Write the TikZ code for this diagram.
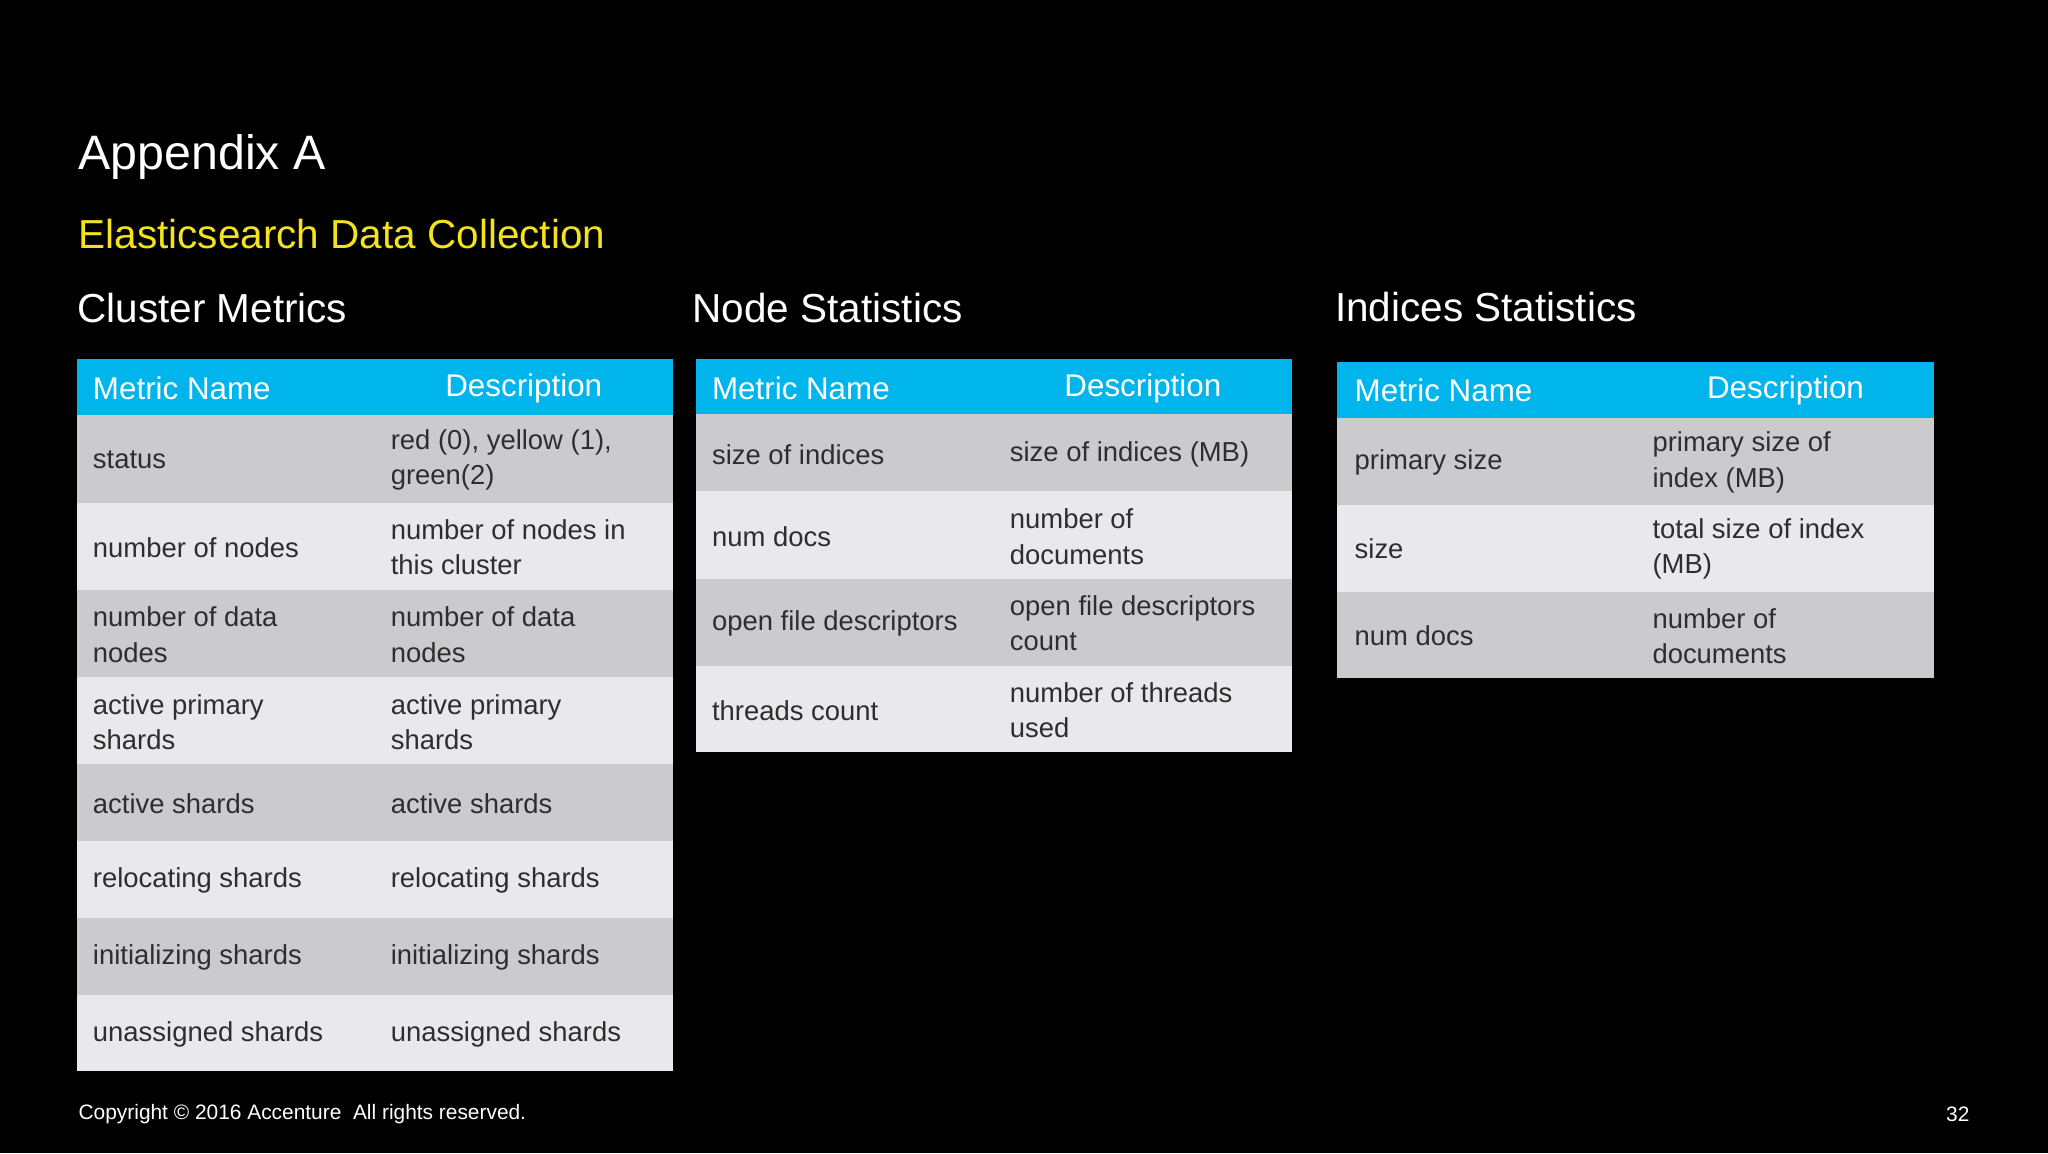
\documentclass[tikz,border=0pt]{standalone}
\usepackage{fontspec}
\setmainfont{Liberation Sans}
\definecolor{hdr}{HTML}{00B4EC}
\definecolor{rowa}{HTML}{CBCBCE}
\definecolor{rowb}{HTML}{E9E8EC}
\definecolor{ttl}{HTML}{F3E21C}
\definecolor{bodytxt}{HTML}{2E2E2E}
\begin{document}
\begin{tikzpicture}[x=1pt,y=-1pt,
  cell/.style={anchor=west,inner sep=0pt,align=left,text=bodytxt,font=\fontsize{21}{27}\selectfont},
  hcell/.style={anchor=west,inner sep=0pt,text=white,font=\fontsize{24}{28}\selectfont},
  sect/.style={anchor=west,inner sep=0pt,text=white,font=\fontsize{31}{36}\selectfont}]
\fill[black] (0,0) rectangle (1568,883);
\useasboundingbox (0,0) rectangle (1568,883);
\node[anchor=west,inner sep=0pt,text=white,font=\fontsize{37}{40}\selectfont] (t1) at (60,120) {Appendix A};
\node[anchor=west,inner sep=0pt,text=ttl,font=\fontsize{31}{36}\selectfont] (t2) at (60,179) {Elasticsearch Data Collection};
\node[sect] (s1) at (59,236) {Cluster Metrics};
\node[sect] (s2) at (530,236) {Node Statistics};
\node[sect] (s3) at (1022,235) {Indices Statistics};
% Cluster table
\fill[hdr] (59,275) rectangle (515,318);
\node[hcell] (c0a) at (71,297) {Metric Name};
\node[hcell,anchor=center] (c0b) at (401,297) {Description};
\foreach \ya/\yb/\c [count=\i] in {318/385/rowa,385/452/rowb,452/518/rowa,518/585/rowb,585/644/rowa,644/703/rowb,703/762/rowa,762/820/rowb}
  \fill[\c] (59,\ya) rectangle (515,\yb);
\node[cell] (c1a) at (71,352) {status};
\node[cell] (c1b) at (299,352) {red (0), yellow (1),\\green(2)};
\node[cell] (c2a) at (71,419) {number of nodes};
\node[cell] (c2b) at (299,419) {number of nodes in\\this cluster};
\node[cell] (c3a) at (71,486) {number of data\\nodes};
\node[cell] (c3b) at (299,486) {number of data\\nodes};
\node[cell] (c4a) at (71,553) {active primary\\shards};
\node[cell] (c4b) at (299,553) {active primary\\shards};
\node[cell] (c5a) at (71,615) {active shards};
\node[cell] (c5b) at (299,615) {active shards};
\node[cell] (c6a) at (71,674) {relocating shards};
\node[cell] (c6b) at (299,674) {relocating shards};
\node[cell] (c7a) at (71,733) {initializing shards};
\node[cell] (c7b) at (299,733) {initializing shards};
\node[cell] (c8a) at (71,792) {unassigned shards};
\node[cell] (c8b) at (299,792) {unassigned shards};
% Node table
\fill[hdr] (533,275) rectangle (989,317);
\node[hcell] (n0a) at (545,297) {Metric Name};
\node[hcell,anchor=center] (n0b) at (875,297) {Description};
\foreach \ya/\yb/\c in {317/376/rowa,376/443/rowb,443/510/rowa,510/576/rowb}
  \fill[\c] (533,\ya) rectangle (989,\yb);
\node[cell] (n1a) at (545,348) {size of indices};
\node[cell] (n1b) at (773,348) {size of indices (MB)};
\node[cell] (n2a) at (545,411) {num docs};
\node[cell] (n2b) at (773,411) {number of\\documents};
\node[cell] (n3a) at (545,477) {open file descriptors};
\node[cell] (n3b) at (773,477) {open file descriptors\\count};
\node[cell] (n4a) at (545,544) {threads count};
\node[cell] (n4b) at (773,544) {number of threads\\used};
% Indices table
\fill[hdr] (1024,277) rectangle (1481,320);
\node[hcell] (i0a) at (1037,299) {Metric Name};
\node[hcell,anchor=center] (i0b) at (1367,299) {Description};
\foreach \ya/\yb/\c in {320/387/rowa,387/453/rowb,453/519/rowa}
  \fill[\c] (1024,\ya) rectangle (1481,\yb);
\node[cell] (i1a) at (1037,354) {primary size};
\node[cell] (i1b) at (1265,354) {primary size of\\index (MB)};
\node[cell] (i2a) at (1037,420) {size};
\node[cell] (i2b) at (1265,420) {total size of index\\(MB)};
\node[cell] (i3a) at (1037,487) {num docs};
\node[cell] (i3b) at (1265,487) {number of\\documents};
% footer
\node[anchor=west,inner sep=0pt,text=white,font=\fontsize{16}{18}\selectfont] (f1) at (60,853) {Copyright © 2016 Accenture\ \ All rights reserved.};
\node[anchor=east,inner sep=0pt,text=white,font=\fontsize{16}{18}\selectfont] (f2) at (1508,853) {32};
\end{tikzpicture}
\end{document}
